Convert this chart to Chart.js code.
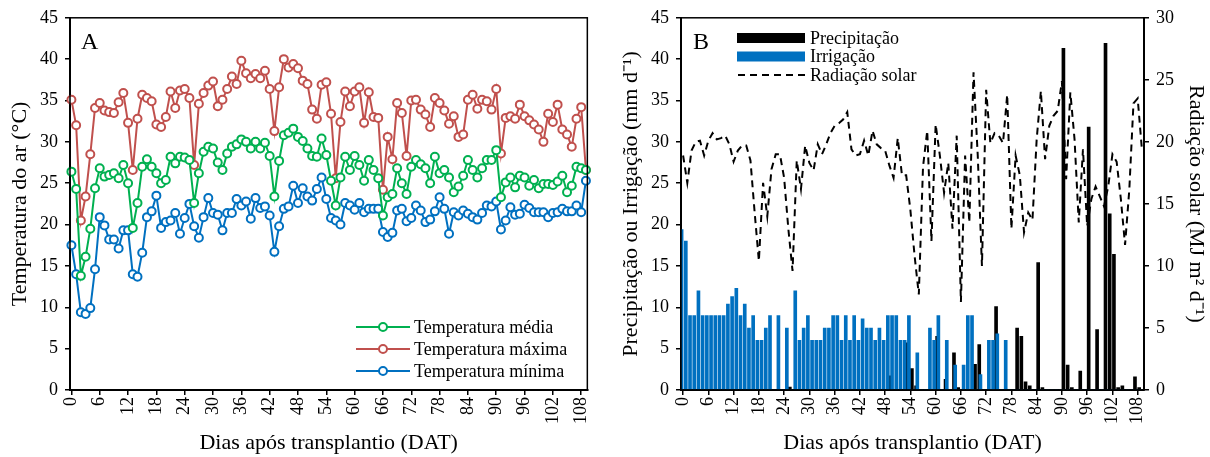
<!DOCTYPE html>
<html>
<head>
<meta charset="utf-8">
<script src="https://cdn.jsdelivr.net/npm/chart.js@4.4.0/dist/chart.umd.min.js"></script>
<style>
  html, body { margin: 0; padding: 0; background: #fff; }
  #wrap { position: relative; width: 1210px; height: 457px; }
  canvas { position: absolute; top: 0; }
</style>
</head>
<body>
<div id="wrap">
  <canvas id="chartA" width="605" height="457" style="left:0"></canvas>
  <canvas id="chartB" width="605" height="457" style="left:605px"></canvas>
</div>
<script>
/* Temperatura (A) e precipitação / irrigação / radiação (B) por dia após transplantio */
var DAYS = Array.from({ length: 110 }, function (_, i) { return i; });
var DAY_TICKS = [0, 6, 12, 18, 24, 30, 36, 42, 48, 54, 60, 66, 72, 78, 84, 90, 96, 102, 108];

var T_MAX = [35.1, 32.0, 20.5, 23.4, 28.5, 34.1, 34.7, 33.8, 33.6, 33.5,
  34.8, 35.9, 32.3, 26.6, 32.8, 35.7, 35.3, 34.9, 32.1, 31.8,
  33.0, 36.1, 34.1, 36.2, 36.4, 35.3, 27.2, 34.6, 35.9, 36.8,
  37.3, 34.3, 35.1, 36.4, 37.9, 37.0, 39.8, 38.3, 37.7, 38.2,
  37.7, 38.6, 36.4, 31.3, 36.6, 40.0, 39.0, 39.4, 38.9, 37.4,
  37.0, 33.9, 32.8, 36.9, 37.2, 33.4, 25.6, 32.4, 36.1, 34.3,
  36.1, 36.6, 32.3, 36.0, 33.0, 32.9, 24.2, 30.6, 27.9, 34.7,
  33.5, 28.3, 35.0, 35.1, 33.9, 33.3, 31.8, 35.3, 34.7, 33.8,
  32.2, 33.1, 30.6, 30.9, 35.1, 35.7, 34.0, 35.1, 34.9, 33.9,
  36.4, 28.6, 32.9, 33.1, 32.8, 34.5, 33.1, 32.6, 32.1, 31.5,
  30.0, 33.4, 32.4, 34.5, 31.5, 30.9, 29.4, 32.8, 34.2, 26.6];
var T_MED = [26.4, 24.3, 13.8, 16.1, 19.5, 24.4, 26.8, 25.8, 26.0, 26.2,
  25.6, 27.2, 25.0, 19.6, 22.6, 27.0, 27.9, 27.0, 26.2, 25.0,
  25.4, 28.2, 27.4, 28.2, 28.1, 27.8, 22.6, 26.2, 28.8, 29.4,
  29.2, 27.5, 26.6, 28.6, 29.4, 29.7, 30.3, 30.0, 29.2, 30.0,
  29.2, 29.9, 28.3, 23.4, 27.7, 30.8, 31.1, 31.6, 30.6, 30.1,
  29.2, 28.3, 28.2, 30.4, 28.4, 25.3, 22.3, 25.7, 28.2, 26.6,
  28.3, 27.2, 25.3, 27.8, 26.6, 25.6, 21.1, 23.3, 23.7, 26.8,
  25.0, 23.7, 27.0, 27.8, 27.3, 26.8, 25.0, 28.2, 26.2, 26.6,
  25.7, 23.9, 24.6, 25.9, 27.8, 26.6, 25.7, 26.8, 27.8, 27.8,
  29.0, 23.3, 25.1, 25.7, 24.5, 25.9, 25.7, 24.7, 25.4, 24.4,
  24.9, 24.9, 24.8, 25.2, 25.9, 23.9, 24.7, 27.0, 26.8, 26.6];
var T_MIN = [17.5, 14.0, 9.4, 9.2, 9.9, 14.6, 20.9, 19.9, 18.2, 18.2,
  17.1, 19.3, 19.3, 14.0, 13.7, 16.6, 20.9, 21.6, 23.5, 19.6,
  20.3, 20.5, 21.4, 18.9, 20.8, 22.5, 19.8, 18.4, 20.9, 23.2,
  21.4, 21.2, 19.3, 21.4, 21.4, 23.1, 22.3, 22.8, 20.7, 23.2,
  22.0, 22.2, 21.1, 16.7, 19.8, 21.9, 22.2, 24.7, 22.6, 24.4,
  23.4, 22.9, 24.3, 25.7, 23.1, 20.8, 20.5, 20.0, 22.6, 22.3,
  21.8, 22.6, 21.5, 21.9, 21.9, 21.9, 19.1, 18.5, 19.0, 21.7,
  21.9, 20.4, 20.8, 22.3, 21.7, 20.3, 20.6, 21.6, 23.3, 21.9,
  18.9, 21.5, 21.1, 21.7, 21.3, 20.9, 20.6, 21.4, 22.3, 22.2,
  22.8, 19.4, 20.5, 22.1, 21.2, 21.3, 22.4, 22.0, 21.5, 21.5,
  21.5, 20.9, 21.4, 21.5, 21.9, 21.6, 21.6, 22.3, 21.5, 25.3];

var PRECIP = [0, 0, 0, 0, 0, 0, 0, 0, 0, 0,
  0, 0, 0, 0, 0, 0, 0, 0, 0, 0,
  0, 0, 0, 0, 0, 0.35, 0, 0, 0, 0,
  0, 0, 0, 0, 0, 0, 0, 0, 0, 0,
  0, 0, 0, 0, 0, 0, 0, 0, 0, 1.7,
  0, 0, 0, 5.7, 2.6, 0.5, 0, 0, 0, 0,
  6.5, 0, 1.3, 0, 4.5, 0.3, 0, 0, 0, 3.1,
  5.5, 0, 0, 0, 10.1, 0, 0, 0, 0, 7.5,
  6.5, 1.0, 0.5, 0, 15.4, 0.3, 0, 0, 0, 0,
  41.3, 3.0, 0.3, 0, 2.3, 0, 31.8, 0, 7.3, 0,
  41.9, 21.3, 16.4, 0.3, 0.5, 0, 0, 1.6, 0.3, 0];
var IRRIG = [19.4, 18.0, 9, 9, 12, 9, 9, 9, 9, 9,
  9, 10.4, 11.3, 12.3, 9, 10.4, 7.5, 9, 6, 6,
  7.5, 9, 0, 9, 0, 7.5, 0, 12, 6, 7.5,
  9, 6, 6, 6, 7.5, 7.5, 9, 9, 6, 9,
  6, 9, 6, 8.6, 7.5, 7.5, 6, 7.5, 6, 9,
  9, 9, 6, 6, 9, 0, 4.5, 0, 0, 7.5,
  6, 9, 0, 6, 0, 3, 0, 3, 9, 9,
  0, 1.85, 0, 6, 6, 6.8, 0, 6, 0, 0,
  0, 0, 0, 0, 0, 0, 0, 0, 0, 0,
  0, 0, 0, 0, 0, 0, 0, 0, 0, 0,
  0, 0, 0, 0, 0, 0, 0, 0, 0, 0];
var RAD = [18.9, 16.7, 19.3, 20.0, 20.1, 18.9, 20.1, 20.7, 20.2, 20.3,
  20.5, 19.8, 18.4, 19.3, 19.7, 19.7, 18.5, 14.3, 10.4, 16.7,
  14.0, 17.8, 19.0, 19.0, 17.1, 13.0, 9.6, 18.5, 16.2, 19.7,
  18.3, 17.7, 19.8, 19.0, 19.8, 20.7, 21.3, 21.5, 21.8, 22.4,
  19.4, 18.9, 19.0, 20.1, 18.9, 20.9, 19.8, 19.5, 19.3, 18.1,
  17.1, 20.3, 17.3, 17.3, 14.5, 10.8, 7.7, 18.0, 20.9, 12.0,
  21.4, 18.9, 15.9, 18.3, 13.0, 20.5, 7.1, 18.9, 13.5, 25.6,
  18.9, 10.0, 24.2, 19.9, 20.7, 20.5, 19.9, 23.8, 13.0, 18.9,
  17.3, 12.7, 14.3, 13.7, 20.2, 24.1, 18.6, 21.3, 22.1, 22.5,
  24.9, 17.0, 24.0, 20.2, 13.5, 19.4, 13.2, 15.4, 16.4, 15.6,
  14.8, 16.4, 19.0, 18.4, 15.4, 11.7, 16.1, 23.1, 23.5, 19.4];

var FONT = "'Liberation Serif', 'Times New Roman', serif";
var GREEN = "#00b050", RED = "#c0504d", BLUE = "#0070c0";
Chart.defaults.font.family = FONT;
Chart.defaults.color = "#000";

function xAxisBase() {
  return {
    grid: { drawOnChartArea: false, drawTicks: true, tickLength: 5, color: "#000", lineWidth: 1.5 },
    border: { color: "#000", width: 2 },
    ticks: { minRotation: 90, maxRotation: 90, autoSkip: false, padding: 2, font: { size: 18 } },
    title: { display: true, text: "Dias após transplantio (DAT)", font: { size: 22 }, padding: { top: 0, bottom: 1 } },
    afterFit: function (s) { s.height = 67; }
  };
}
function yAxis(max, title, width, pad, pos) {
  return {
    position: pos, min: 0, max: max,
    grid: { drawOnChartArea: false, drawTicks: true, tickLength: 5, color: "#000", lineWidth: 1.5 },
    border: { color: "#000", width: 2 },
    ticks: { stepSize: 5, padding: 7, font: { size: 18 } },
    title: { display: true, text: title, font: { size: 22 }, padding: { top: pad, bottom: 0 } },
    afterFit: function (s) { s.width = width; }
  };
}

var frame = {
  id: "frame",
  afterDatasetsDraw: function (chart) {
    var a = chart.chartArea, c = chart.ctx;
    c.save(); c.strokeStyle = "#000"; c.lineWidth = 1.5;
    c.strokeRect(a.left, a.top, a.right - a.left, a.bottom - a.top);
    c.restore();
  }
};

// panel A legend + letter
var legendA = {
  id: "legendA",
  afterDraw: function (chart) {
    var c = chart.ctx;
    c.save();
    c.font = "24px " + FONT; c.fillStyle = "#000"; c.textBaseline = "middle";
    c.fillText("A", 81, 43);
    c.font = "18px " + FONT;
    chart.data.datasets.forEach(function (ds, i) {
      var y = 327 + i * 22;
      c.strokeStyle = ds.borderColor; c.lineWidth = 2;
      c.beginPath(); c.moveTo(356, y); c.lineTo(410, y); c.stroke();
      c.fillStyle = "#fff"; c.beginPath(); c.arc(383, y, 4, 0, Math.PI * 2); c.fill(); c.stroke();
      c.fillStyle = "#000"; c.fillText(ds.label, 414, y + 1);
    });
    c.restore();
  }
};

function tempSet(label, data, color) {
  return { label: label, data: data, borderColor: color, backgroundColor: "#fff", borderWidth: 2,
    pointRadius: 4, pointBorderWidth: 2, pointBackgroundColor: "#fff", pointBorderColor: color,
    tension: 0, clip: false };
}

new Chart(document.getElementById("chartA"), {
  type: "line",
  data: {
    labels: DAYS,
    datasets: [
      tempSet("Temperatura média", T_MED, GREEN),
      tempSet("Temperatura máxima", T_MAX, RED),
      tempSet("Temperatura mínima", T_MIN, BLUE)
    ]
  },
  options: {
    responsive: false, animation: false,
    layout: { padding: { top: 17, right: 17, left: 0, bottom: 0 } },
    plugins: { legend: { display: false }, tooltip: { enabled: false } },
    scales: {
      x: Object.assign(xAxisBase(), {
        type: "linear", min: -0.3, max: 109.3,
        afterBuildTicks: function (s) { s.ticks = DAY_TICKS.map(function (v) { return { value: v }; }); }
      }),
      y: yAxis(45, "Temperatura do ar (°C)", 70, 7, "left")
    }
  },
  plugins: [frame, legendA]
});

// panel B legend + letter
var legendB = {
  id: "legendB",
  afterDraw: function (chart) {
    var c = chart.ctx;
    c.save();
    c.font = "24px " + FONT; c.fillStyle = "#000"; c.textBaseline = "middle";
    c.fillText("B", 88, 43);
    c.font = "18px " + FONT;
    var items = [chart.data.datasets[1], chart.data.datasets[0], chart.data.datasets[2]];
    items.forEach(function (ds, i) {
      var y = 38 + i * 18.5;
      if (ds.type === "line") {
        c.strokeStyle = "#000"; c.lineWidth = 2; c.setLineDash([7, 5]);
        c.beginPath(); c.moveTo(133, y); c.lineTo(200, y); c.stroke(); c.setLineDash([]);
      } else {
        c.fillStyle = ds.backgroundColor; c.fillRect(132, y - 5, 68, 10);
      }
      c.fillStyle = "#000"; c.fillText(ds.label, 205, y + 1);
    });
    c.restore();
  }
};

var xB = xAxisBase();
xB.type = "category";
xB.offset = true;
xB.grid.offset = false;
xB.ticks.callback = function (v, i) { return DAY_TICKS.indexOf(DAYS[i]) >= 0 ? String(DAYS[i]) : null; };

new Chart(document.getElementById("chartB"), {
  type: "bar",
  data: {
    labels: DAYS,
    datasets: [
      { type: "bar", label: "Irrigação", data: IRRIG, backgroundColor: BLUE, barThickness: 3, order: 1, yAxisID: "y" },
      { type: "bar", label: "Precipitação", data: PRECIP, backgroundColor: "#000", barThickness: 3, order: 2, yAxisID: "y" },
      { type: "line", label: "Radiação solar", data: RAD, borderColor: "#000", borderWidth: 2, borderDash: [7, 5],
        pointRadius: 0, tension: 0, fill: false, order: 0, yAxisID: "y1" }
    ]
  },
  options: {
    responsive: false, animation: false,
    layout: { padding: { top: 17, right: 0, left: 0, bottom: 0 } },
    plugins: { legend: { display: false }, tooltip: { enabled: false } },
    scales: {
      x: xB,
      y: yAxis(45, "Precipitação ou Irrigação (mm d⁻¹)", 76, 13, "left"),
      y1: yAxis(30, "Radiação solar (MJ m² d⁻¹)", 66, 1, "right")
    }
  },
  plugins: [frame, legendB]
});
</script>
</body>
</html>
